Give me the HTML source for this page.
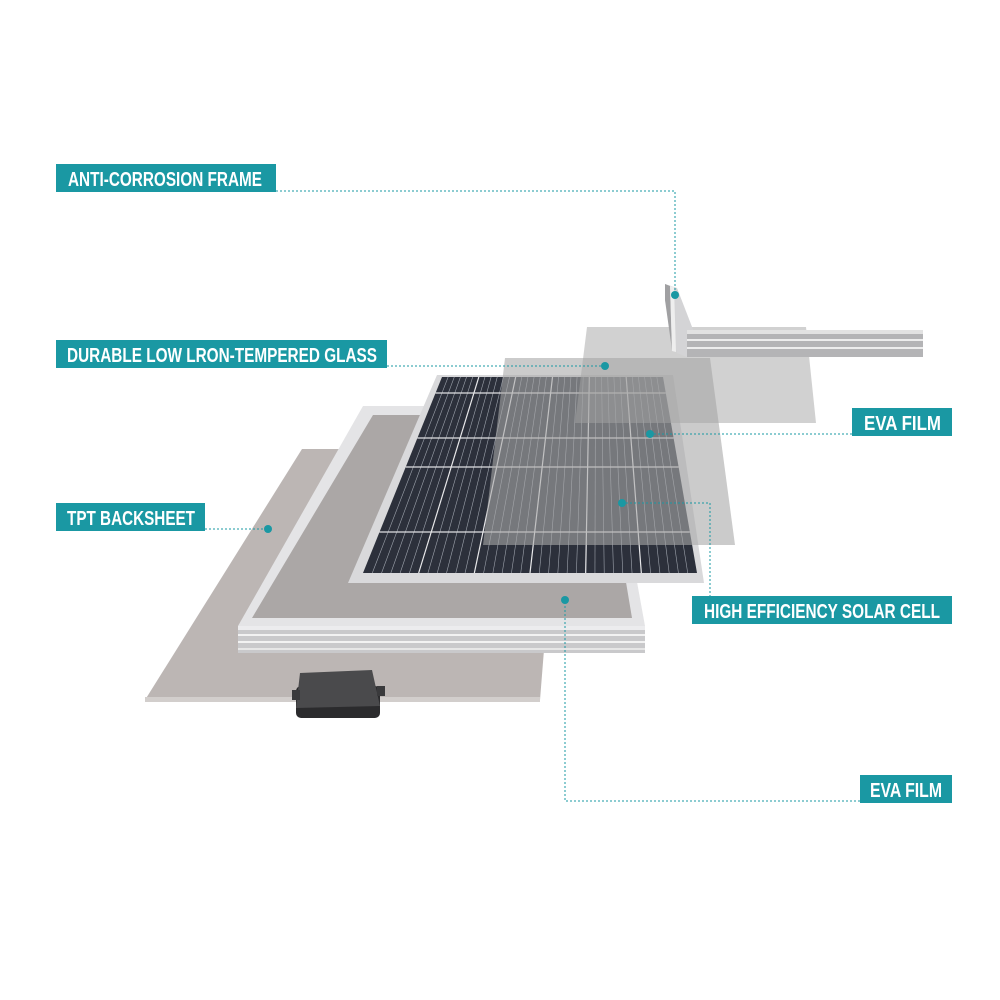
<!DOCTYPE html>
<html><head><meta charset="utf-8"><style>
html,body{margin:0;padding:0;background:#fff}
svg{display:block}
.lb{font-family:"Liberation Sans Narrow","Liberation Sans",sans-serif;font-size:20px;fill:#fff;font-weight:bold}
</style></head><body>
<svg id="s" width="1000" height="1000" viewBox="0 0 1000 1000" xmlns="http://www.w3.org/2000/svg">
<rect width="1000" height="1000" fill="#fff"/>
<!-- backsheet -->
<polygon points="302,449 560,449 540,700 145,700" fill="#bcb6b4"/>
<polygon points="145,697 540,697 540,702 145,702" fill="#d2cecc"/>
<!-- junction box -->
<rect x="296" y="686" width="84" height="32" rx="5" fill="#2b2b2d"/>
<polygon points="300,673 372,670 380,706 296,708" fill="#4a4a4c"/>
<rect x="292" y="690" width="8" height="10" fill="#3a3a3c"/>
<rect x="377" y="686" width="8" height="10" fill="#3a3a3c"/>
<!-- frame -->
<polygon points="363,406 605,406 645,626 238,626" fill="#e4e4e6"/>
<polygon points="373,415 598,415 632,618 252,618" fill="#aba7a6"/>
<rect x="238" y="626" width="407" height="27" fill="#c9c9cb"/>
<rect x="238" y="626" width="407" height="4" fill="#ececee"/>
<rect x="238" y="634" width="407" height="2" fill="#f2f2f2"/>
<rect x="238" y="641" width="407" height="2" fill="#f2f2f2"/>
<rect x="238" y="648" width="407" height="2" fill="#e6e6e6"/>
<!-- panel glass border -->
<polygon points="437,375 673,375 704,583 348,583" fill="#d9d9db"/>
<polygon points="442,377 663,377 697,573 363,573" fill="#2c303b"/>
<g id="grid" stroke="#9ea3ad" stroke-width="0.6"></g>
<!-- EVA film top -->
<polygon points="505,358 710,358 735,545 483,545" fill="#a8a8a8" fill-opacity="0.6"/>
<!-- glass -->
<polygon points="587,327 806,327 816,423 575,423" fill="#a4a4a4" fill-opacity="0.5"/>
<!-- rail -->
<polygon points="665,284 677,288 694,332 687,357 677,353 665,300" fill="#d4d4d6"/>
<polygon points="665,284 670,286 672,350 665,300" fill="#a0a0a2"/>
<polygon points="670,286 674,287 676,352 672,351" fill="#eeeeee"/>
<rect x="687" y="330" width="236" height="27" fill="#b4b4b6"/>
<rect x="687" y="330" width="236" height="4" fill="#e2e2e2"/>
<rect x="687" y="339" width="236" height="2" fill="#ededed"/>
<rect x="687" y="347" width="236" height="2" fill="#ededed"/>
<!-- connectors -->
<g stroke="#1a98a3" stroke-width="1" stroke-dasharray="2,2" fill="none">
<polyline points="276,191 675,191 675,295"/>
<polyline points="387,366 605,366"/>
<polyline points="852,434 650,434"/>
<polyline points="205,529 268,529"/>
<polyline points="710,597 710,503 622,503"/>
<polyline points="860,801 565,801 565,600"/>
</g>
<g fill="#1a98a3">
<circle cx="675" cy="295" r="4"/><circle cx="605" cy="366" r="4"/><circle cx="650" cy="434" r="4"/>
<circle cx="268" cy="529" r="4"/><circle cx="622" cy="503" r="4"/><circle cx="565" cy="600" r="4"/>
</g>
<!-- labels -->
<rect x="56" y="164" width="220" height="28" fill="#1a98a3"/>
<text class="lb" x="68" y="186" textLength="194" lengthAdjust="spacingAndGlyphs">ANTI-CORROSION FRAME</text>
<rect x="56" y="340" width="331" height="28" fill="#1a98a3"/>
<text class="lb" x="67" y="362" textLength="310" lengthAdjust="spacingAndGlyphs">DURABLE LOW LRON-TEMPERED GLASS</text>
<rect x="852" y="408" width="100" height="28" fill="#1a98a3"/>
<text class="lb" x="864" y="430" textLength="77" lengthAdjust="spacingAndGlyphs">EVA FILM</text>
<rect x="56" y="503" width="149" height="28" fill="#1a98a3"/>
<text class="lb" x="67" y="525" textLength="128" lengthAdjust="spacingAndGlyphs">TPT BACKSHEET</text>
<rect x="692" y="596" width="260" height="28" fill="#1a98a3"/>
<text class="lb" x="704" y="618" textLength="236" lengthAdjust="spacingAndGlyphs">HIGH EFFICIENCY SOLAR CELL</text>
<rect x="860" y="775" width="92" height="28" fill="#1a98a3"/>
<text class="lb" x="870" y="797" textLength="72" lengthAdjust="spacingAndGlyphs">EVA FILM</text>
</svg>
<script>
(function(){
var g=document.getElementById('grid'),ns='http://www.w3.org/2000/svg';
function L(x1,y1,x2,y2,c,w){var l=document.createElementNS(ns,'line');l.setAttribute('x1',x1);l.setAttribute('y1',y1);l.setAttribute('x2',x2);l.setAttribute('y2',y2);if(c)l.setAttribute('stroke',c);if(w)l.setAttribute('stroke-width',w);g.appendChild(l);}
var N=36;
for(var i=1;i<N;i++){var t=i/N;L(442+221*t,377,363+334*t,573,(i%6==0)?'#e8e8ea':null,(i%6==0)?1.2:null);}
var ys=[393,438,467,532];
for(var j=0;j<ys.length;j++){var y=ys[j],f=(y-377)/196;L(442-79*f,y,663+34*f,y,'#e0e0e2',1.2);}
})();
</script>
</body></html>
